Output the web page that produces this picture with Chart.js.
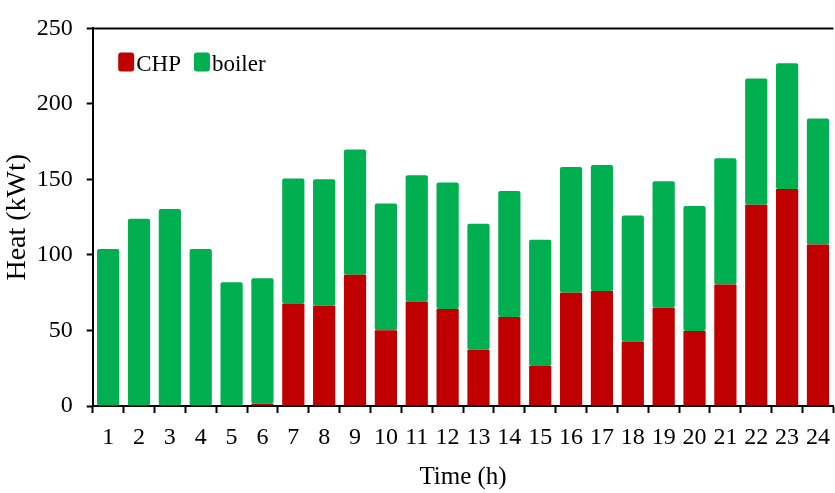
<!DOCTYPE html>
<html>
<head>
<meta charset="utf-8">
<title>Heat supply by hour</title>
<script src="https://cdn.jsdelivr.net/npm/chart.js@4/dist/chart.umd.min.js"></script>
<style>
  body { margin: 0; background: #fff; overflow: hidden; }
  #wrap { position: relative; width: 840px; height: 493px; }
</style>
</head>
<body>
<div id="wrap"><canvas id="heat-chart"></canvas></div>
<script>
const hours = ["1", "2", "3", "4", "5", "6", "7", "8", "9", "10", "11", "12",
  "13", "14", "15", "16", "17", "18", "19", "20", "21", "22", "23", "24"];
const chpHeat = [0, 0, 0, 0, 0, 1.5, 67.5, 66.4, 86.9, 50.2, 69.2, 64.2,
  37.3, 58.9, 26.5, 75, 76.1, 42.7, 65.1, 49.6, 80.4, 133.2, 143.6, 106.9];
const boilerHeat = [104, 124, 130.5, 104, 82, 83, 83.2, 83.7, 83, 83.9, 83.5, 83.7,
  83.4, 83.4, 83.5, 83.2, 83.5, 83.4, 83.7, 82.8, 83.7, 83.7, 83.4, 83.5];
const yTicks = [0, 50, 100, 150, 200, 250];

const serif = "'Liberation Serif', 'Times New Roman', serif";

// top edge of the plot box
const frameTop = {
  id: "frameTop",
  afterDraw(chart) {
    const { ctx, chartArea } = chart;
    ctx.save();
    ctx.strokeStyle = "#000";
    ctx.lineWidth = 2;
    ctx.beginPath();
    ctx.moveTo(chartArea.left, chartArea.top);
    ctx.lineTo(chartArea.right, chartArea.top);
    ctx.stroke();
    ctx.restore();
  },
};

// legend drawn inside the plot, top left
const insideLegend = {
  id: "insideLegend",
  afterDraw(chart) {
    const { ctx, chartArea } = chart;
    let x = chartArea.left + 25.5;
    const y = chartArea.top + 24;
    ctx.save();
    ctx.font = "23px " + serif;
    ctx.textBaseline = "alphabetic";
    chart.data.datasets.forEach((ds) => {
      ctx.fillStyle = ds.backgroundColor;
      ctx.beginPath();
      ctx.roundRect(x, y, 16, 19, 3);
      ctx.fill();
      ctx.fillStyle = "#000";
      ctx.fillText(ds.label, x + 18, y + 18.5);
      x += 18 + ctx.measureText(ds.label).width + 13;
    });
    ctx.restore();
  },
};

new Chart(document.getElementById("heat-chart"), {
  type: "bar",
  data: {
    labels: hours,
    datasets: [
      {
        label: "CHP",
        data: chpHeat,
        backgroundColor: "#C00000",
        borderRadius: 2,
        borderSkipped: false,
      },
      {
        label: "boiler",
        data: boilerHeat,
        backgroundColor: "#00B050",
        borderRadius: 2,
        borderSkipped: false,
      },
    ],
  },
  options: {
    responsive: true,
    maintainAspectRatio: false,
    animation: false,
    layout: { padding: { top: 19, right: 1, left: 0, bottom: 0 } },
    plugins: {
      legend: { display: false },
      tooltip: { enabled: false },
    },
    scales: {
      x: {
        stacked: true,
        categoryPercentage: 1,
        barPercentage: 0.6,
        grid: {
          drawOnChartArea: false,
          drawTicks: true,
          tickLength: 7,
          tickWidth: 2,
          color: "#000",
          offset: true,
        },
        border: { display: true, color: "#000", width: 2 },
        ticks: {
          color: "#000",
          font: { family: serif, size: 24 },
          padding: 10,
          maxRotation: 0,
          autoSkip: false,
        },
        title: {
          display: true,
          text: "Time (h)",
          color: "#000",
          font: { family: serif, size: 25 },
          padding: { top: 0, bottom: 1 },
        },
        afterFit(scale) {
          scale.height = 87;
        },
      },
      y: {
        stacked: true,
        min: 0,
        max: 250,
        afterBuildTicks(scale) {
          scale.ticks = yTicks.map((v) => ({ value: v }));
        },
        grid: {
          drawOnChartArea: false,
          drawTicks: true,
          tickLength: 6,
          tickWidth: 2,
          color: "#000",
        },
        border: { display: true, color: "#000", width: 2 },
        ticks: {
          color: "#000",
          font: { family: serif, size: 24 },
          padding: 14,
        },
        title: {
          display: true,
          text: "Heat (kWt)",
          color: "#000",
          font: { family: serif, size: 28 },
          padding: { top: 1, bottom: 0 },
        },
        afterFit(scale) {
          scale.width = 92.7;
        },
      },
    },
  },
  plugins: [frameTop, insideLegend],
});
</script>
</body>
</html>
